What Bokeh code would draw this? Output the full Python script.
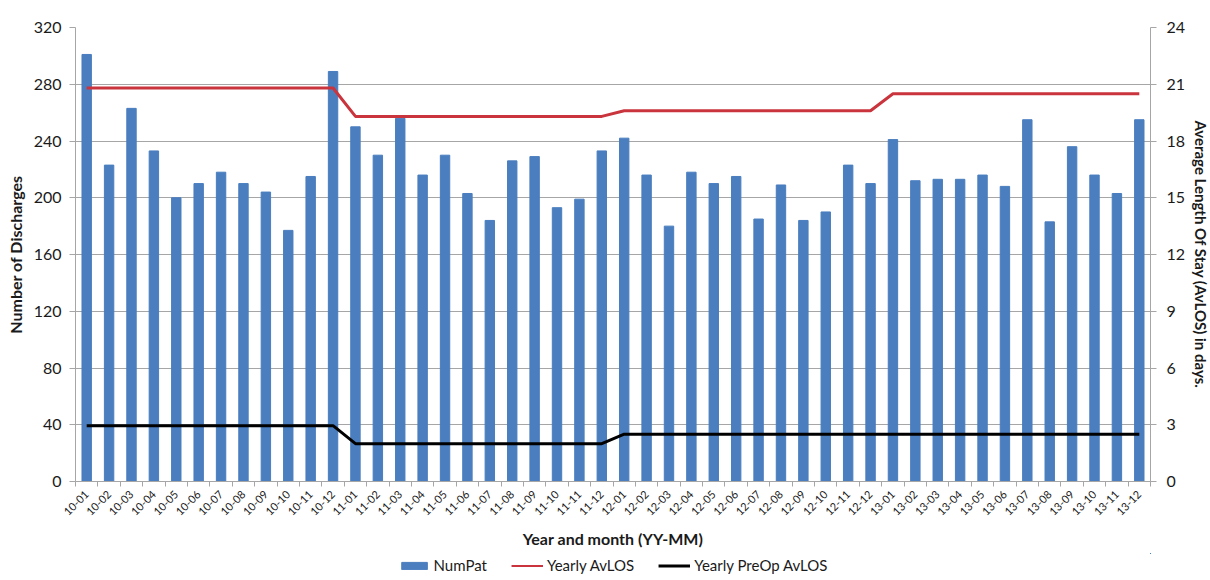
import math
from bokeh.plotting import figure
from bokeh.layouts import column
from bokeh.models import (Range1d, LinearAxis, FixedTicker, Legend, LegendItem,
                          ColumnDataSource, CustomJSTickFormatter)
from bokeh.embed import file_html
from bokeh.resources import INLINE

months = ["10-01","10-02","10-03","10-04","10-05","10-06","10-07","10-08","10-09","10-10","10-11","10-12",
          "11-01","11-02","11-03","11-04","11-05","11-06","11-07","11-08","11-09","11-10","11-11","11-12",
          "12-01","12-02","12-03","12-04","12-05","12-06","12-07","12-08","12-09","12-10","12-11","12-12",
          "13-01","13-02","13-03","13-04","13-05","13-06","13-07","13-08","13-09","13-10","13-11","13-12"]
num_pat = [301, 223, 263, 233, 200, 210, 218, 210, 204, 177, 215, 289,
           250, 230, 256, 216, 230, 203, 184, 226, 229, 193, 199, 233,
           242, 216, 180, 218, 210, 215, 185, 209, 184, 190, 223, 210,
           241, 212, 213, 213, 216, 208, 255, 183, 236, 216, 203, 255]
yearly_avlos = [20.8]*12 + [19.3]*12 + [19.6]*12 + [20.5]*12
yearly_preop_avlos = [2.95]*12 + [2.0]*12 + [2.5]*12 + [2.5]*12

left_ticks = [0, 40, 80, 120, 160, 200, 240, 280, 320]
right_ticks = [0, 3, 6, 9, 12, 15, 18, 21, 24]

FONT = "Lato"
BAR = "#4A7EBF"
RED = "#C9343D"
GRID = "#A6A6A6"
TXT = "#1a1a1a"

n = len(months)
xc = [i + 0.5 for i in range(n)]
src = ColumnDataSource(dict(x=xc, top=num_pat, avlos=yearly_avlos, preop=yearly_preop_avlos))

p = figure(frame_width=1075, frame_height=454,
           output_backend="svg", toolbar_location=None,
           x_range=Range1d(0, n), y_range=Range1d(0, 320),
           min_border_left=75, min_border_right=60, min_border_top=27, min_border_bottom=72)
p.extra_y_ranges = {"los": Range1d(0, 24)}
p.outline_line_color = None
p.background_fill_color = "white"
p.border_fill_color = "white"

bars = p.vbar(x="x", top="top", width=0.42, source=src, color=BAR)
l1 = p.line(x="x", y="avlos", source=src, y_range_name="los", line_color=RED, line_width=3)
l2 = p.line(x="x", y="preop", source=src, y_range_name="los", line_color="black", line_width=3)

# x axis
xa = p.xaxis[0]
xa.ticker = FixedTicker(ticks=xc, minor_ticks=list(range(n + 1)))
xa.formatter = CustomJSTickFormatter(args=dict(labels=months), code="return labels[Math.floor(tick)];")
xa.major_label_orientation = math.pi / 4
xa.major_tick_out = 0
xa.major_tick_in = 0
xa.minor_tick_out = 5
xa.minor_tick_in = 0
xa.minor_tick_line_color = GRID
xa.axis_line_color = GRID
xa.major_label_standoff = 6
xa.major_label_text_font = FONT
xa.major_label_text_font_size = "11px"
xa.major_label_text_color = TXT
xa.axis_label = "Year and month (YY-MM)"
xa.axis_label_text_font = FONT
xa.axis_label_text_font_style = "bold"
xa.axis_label_text_font_size = "16px"
xa.axis_label_text_color = TXT
xa.axis_label_standoff = 7
p.xgrid.visible = False

# left axis
ya = p.yaxis[0]
ya.ticker = FixedTicker(ticks=left_ticks)
ya.minor_tick_line_color = None
ya.major_tick_out = 6
ya.major_tick_in = 0
ya.major_tick_line_color = GRID
ya.axis_line_color = GRID
ya.major_label_standoff = 8
ya.major_label_text_font = FONT
ya.major_label_text_font_size = "16px"
ya.major_label_text_color = TXT
ya.axis_label = "Number of Discharges"
ya.axis_label_text_font = FONT
ya.axis_label_text_font_style = "bold"
ya.axis_label_text_font_size = "16px"
ya.axis_label_text_color = TXT
ya.axis_label_standoff = 6
p.ygrid.ticker = FixedTicker(ticks=left_ticks)
p.ygrid.grid_line_color = GRID

# right axis
ra = LinearAxis(y_range_name="los", ticker=FixedTicker(ticks=right_ticks))
ra.minor_tick_line_color = None
ra.major_tick_out = 6
ra.major_tick_in = 0
ra.major_tick_line_color = GRID
ra.axis_line_color = GRID
ra.major_label_standoff = 10
ra.major_label_text_font = FONT
ra.major_label_text_font_size = "16px"
ra.major_label_text_color = TXT
ra.axis_label = "Average Length Of Stay (AvLOS) in days."
ra.axis_label_text_font = FONT
ra.axis_label_text_font_style = "bold"
ra.axis_label_text_font_size = "15px"
ra.axis_label_text_color = TXT
ra.axis_label_standoff = 4
p.add_layout(ra, "right")

# legend strip (separate small figure below the chart); the proxy renderers
# reuse the chart's data source but sit outside this strip's visible range
lf = figure(frame_width=1075, frame_height=24, output_backend="svg", toolbar_location=None,
            x_range=Range1d(-200, -100), y_range=Range1d(-200, -100),
            min_border_left=75, min_border_right=60, min_border_top=0, min_border_bottom=0)
lf.axis.visible = False
lf.grid.visible = False
lf.outline_line_color = None
lf.background_fill_color = "white"
lf.border_fill_color = "white"
lb = lf.vbar(x="x", top="top", width=0.42, source=src, color=BAR)
ll1 = lf.line(x="x", y="avlos", source=src, line_color=RED, line_width=2)
ll2 = lf.line(x="x", y="preop", source=src, line_color="black", line_width=3)

legend = Legend(items=[LegendItem(label="NumPat", renderers=[lb]),
                       LegendItem(label="Yearly AvLOS", renderers=[ll1]),
                       LegendItem(label="Yearly PreOp AvLOS", renderers=[ll2])],
                orientation="horizontal", location="center",
                border_line_color=None, background_fill_alpha=0,
                label_text_font=FONT, label_text_font_size="15px", label_text_color=TXT,
                glyph_width=32, glyph_height=9, spacing=24, padding=0, margin=0,
                label_standoff=4)
lf.add_layout(legend, "center")

layout = column(p, lf, spacing=0)
open("out.html", "w").write(file_html(layout, INLINE))
